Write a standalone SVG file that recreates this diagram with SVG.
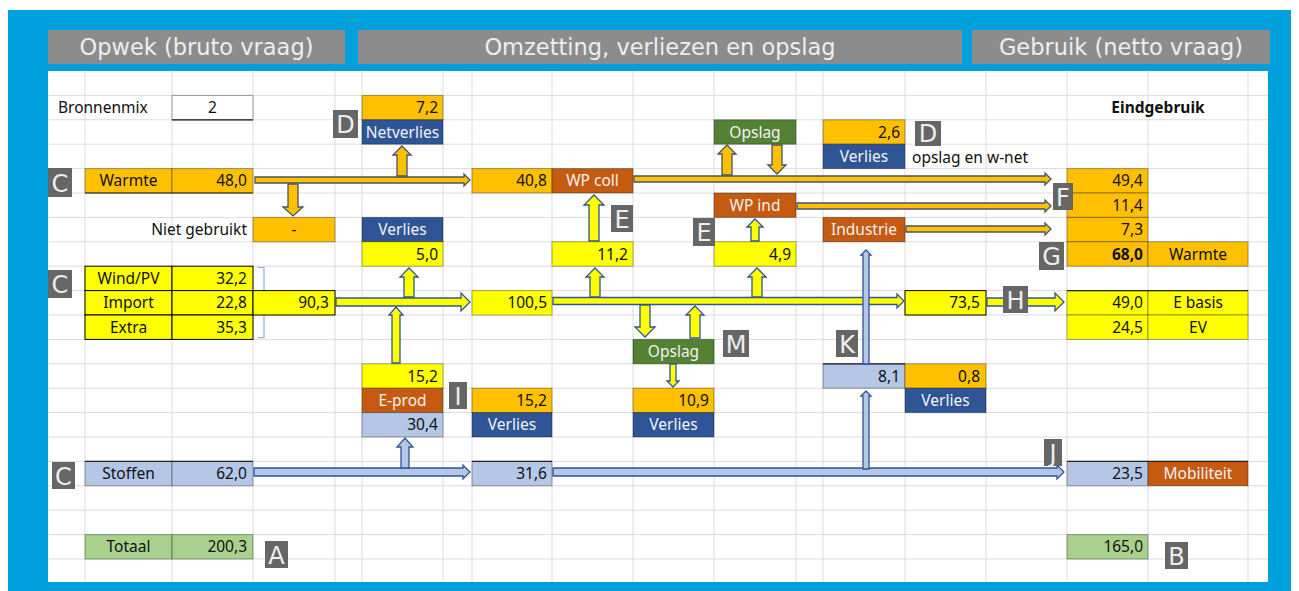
<svg xmlns="http://www.w3.org/2000/svg" width="1299" height="591" viewBox="0 0 1299 591">
<style>
.hdr{fill:#8c8c8c}
.ht{font-family:"DejaVu Sans",Verdana,sans-serif;font-size:22.5px;fill:#eeeeee;text-anchor:middle}
.t{font-family:"Noto Sans","Open Sans",sans-serif;font-size:15.5px;fill:#111}
.w{fill:#f2f2f2}
.b{font-weight:bold}
.r{text-anchor:end}
.c{text-anchor:middle}
.cell{stroke:#000;stroke-opacity:0.35;stroke-width:1}
.or{fill:#ffc000}
.ye{fill:#ffff00}
.dk{fill:#c55a11}
.bl{fill:#2f5597}
.gr{fill:#548235}
.lb{fill:#b4c7e7}
.lg{fill:#a9d18e}
.lab rect{fill:#666666}
.lab text{font-family:"DejaVu Sans",sans-serif;font-size:24px;fill:#eeeeee;text-anchor:middle}
.ao{fill:#ffc000;stroke:#44546a;stroke-width:1.3}
.ay{fill:#ffff00;stroke:#2f5597;stroke-width:1.3}
.ab{fill:#b4c7e7;stroke:#2f5597;stroke-width:1.3}
</style>
<rect x="0" y="0" width="1299" height="591" fill="#ffffff"/>
<rect x="8" y="10" width="1283" height="581" fill="#00a0dc"/>
<rect x="48" y="71" width="1220" height="511" fill="#ffffff"/>
<g id="grid" stroke="#dcdcdc" stroke-width="1" fill="none">
<path d="M85 71V582M172 71V582M253 71V582M335 71V582M362 71V582M443 71V582M472 71V582M552 71V582M633 71V582M714 71V582M796 71V582M823 71V582M905 71V582M986 71V582M1067 71V582M1148 71V582M1248 71V582"/>
<path d="M48 95.4H1268M48 119.8H1268M48 144.2H1268M48 168.6H1268M48 193H1268M48 217.4H1268M48 241.8H1268M48 266.2H1268M48 290.6H1268M48 315H1268M48 339.4H1268M48 363.8H1268M48 388.2H1268M48 412.6H1268M48 437H1268M48 461.4H1268M48 485.8H1268M48 510.2H1268M48 534.6H1268M48 559H1268"/>
</g>
<g id="headers">
<rect class="hdr" x="48" y="30" width="297" height="34"/>
<text class="ht" x="196.5" y="55">Opwek (bruto vraag)</text>
<rect class="hdr" x="358" y="30" width="604" height="34"/>
<text class="ht" x="660" y="55">Omzetting, verliezen en opslag</text>
<rect class="hdr" x="972" y="30" width="298" height="34"/>
<text class="ht" x="1121" y="55">Gebruik (netto vraag)</text>
</g>
<g id="bronnenmix">
<text class="t" x="58" y="113">Bronnenmix</text>
<rect x="172" y="95.4" width="81" height="24.4" fill="#fff" stroke="#999" stroke-width="1"/>
<line x1="172" y1="119.8" x2="253" y2="119.8" stroke="#222" stroke-width="1.2"/>
<text class="t c" x="212.5" y="113">2</text>
</g>
<g id="eindgebruik"><text class="t b c" x="1158" y="113">Eindgebruik</text></g>
<g id="netverlies">
<rect class="cell or" x="362" y="95.4" width="81" height="24.4"/><text class="t r" x="438" y="113">7,2</text>
<rect class="cell bl" x="362" y="119.8" width="81" height="24.4"/><text class="t c w" x="402.5" y="137.5">Netverlies</text>
</g>
<g id="opslag-warmte">
<rect class="cell gr" x="714" y="119.8" width="82" height="24.4"/><text class="t c w" x="755" y="137.5">Opslag</text>
</g>
<g id="verlies-opslag">
<rect class="cell or" x="823" y="119.8" width="82" height="24.4"/><text class="t r" x="900" y="137.5">2,6</text>
<rect class="cell bl" x="823" y="144.2" width="82" height="24.4"/><text class="t c w" x="864" y="162">Verlies</text>
<text class="t" x="912" y="163">opslag en w-net</text>
</g>
<g id="warmte">
<rect class="cell or" x="85" y="168.6" width="87" height="24.4"/><text class="t c" x="128.5" y="186">Warmte</text>
<rect class="cell or" x="172" y="168.6" width="81" height="24.4"/><text class="t r" x="247" y="186">48,0</text>
<line x1="85" y1="193" x2="253" y2="193" stroke="#222" stroke-width="1.2"/>
</g>
<g id="niet-gebruikt">
<text class="t r" x="247" y="235">Niet gebruikt</text>
<rect class="cell or" x="253" y="217.4" width="82" height="24.4"/><text class="t c" x="294" y="235">-</text>
</g>
<g id="verlies-net">
<rect class="cell bl" x="362" y="217.4" width="81" height="24.4"/><text class="t c w" x="402.5" y="235">Verlies</text>
<rect class="cell ye" x="362" y="241.8" width="81" height="24.4"/><text class="t r" x="438" y="259.5">5,0</text>
</g>
<g id="wp-coll">
<rect class="cell or" x="472" y="168.6" width="80" height="24.4"/><text class="t r" x="547" y="186">40,8</text>
<rect class="cell dk" x="552" y="168.6" width="81" height="24.4"/><text class="t c w" x="592.5" y="186">WP coll</text>
<rect class="cell ye" x="552" y="241.8" width="81" height="24.4"/><text class="t r" x="628" y="259.5">11,2</text>
</g>
<g id="wp-ind">
<rect class="cell dk" x="714" y="193" width="82" height="24.4"/><text class="t c w" x="755" y="210.5">WP ind</text>
<rect class="cell ye" x="714" y="241.8" width="82" height="24.4"/><text class="t r" x="791" y="259.5">4,9</text>
</g>
<g id="industrie">
<rect class="cell dk" x="823" y="217.4" width="82" height="24.4"/><text class="t c w" x="864" y="235">Industrie</text>
</g>
<g id="warmte-gebruik">
<rect class="cell or" x="1067" y="168.6" width="81" height="24.4"/><text class="t r" x="1143" y="186">49,4</text>
<rect class="cell or" x="1067" y="193" width="81" height="24.4"/><text class="t r" x="1143" y="210.5">11,4</text>
<rect class="cell or" x="1067" y="217.4" width="81" height="24.4"/><text class="t r" x="1143" y="235">7,3</text>
<rect class="cell or" x="1067" y="241.8" width="81" height="24.4"/><text class="t r b" x="1143" y="259.5">68,0</text>
<rect class="cell or" x="1148" y="241.8" width="100" height="24.4"/><text class="t c" x="1198" y="259.5">Warmte</text>
</g>
<g id="elektriciteit-bron" stroke="#000" stroke-width="1">
<rect class="ye" x="85" y="266.2" width="87" height="24.4"/>
<rect class="ye" x="172" y="266.2" width="81" height="24.4"/>
<rect class="ye" x="85" y="290.6" width="87" height="24.4"/>
<rect class="ye" x="172" y="290.6" width="81" height="24.4"/>
<rect class="ye" x="85" y="315" width="87" height="24.4"/>
<rect class="ye" x="172" y="315" width="81" height="24.4"/>
<text class="t c" x="128.5" y="284" stroke="none">Wind/PV</text><text class="t r" x="247" y="284" stroke="none">32,2</text>
<text class="t c" x="128.5" y="308" stroke="none">Import</text><text class="t r" x="247" y="308" stroke="none">22,8</text>
<text class="t c" x="128.5" y="332.5" stroke="none">Extra</text><text class="t r" x="247" y="332.5" stroke="none">35,3</text>
</g>
<g id="bracket"><path d="M258 267.5H264V337.5H258M264 303H268" fill="none" stroke="#8faadc" stroke-width="1.2"/></g>
<g id="e-totaal">
<rect class="ye" x="253" y="290.6" width="82" height="24.4" stroke="#000" stroke-width="1"/><text class="t r" x="329" y="308">90,3</text>
</g>
<g id="e-net">
<rect class="cell ye" x="472" y="290.6" width="80" height="24.4"/><text class="t r" x="547" y="308">100,5</text>
</g>
<g id="e-rest">
<rect class="ye" x="905" y="290.6" width="81" height="24.4" stroke="#000" stroke-width="1"/><text class="t r" x="980" y="308">73,5</text>
</g>
<g id="e-gebruik">
<rect class="cell ye" x="1067" y="290.6" width="81" height="24.4"/><text class="t r" x="1143" y="308">49,0</text>
<rect class="cell ye" x="1148" y="290.6" width="100" height="24.4"/><text class="t c" x="1198" y="308">E basis</text>
<rect class="cell ye" x="1067" y="315" width="81" height="24.4"/><text class="t r" x="1143" y="332.5">24,5</text>
<rect class="cell ye" x="1148" y="315" width="100" height="24.4"/><text class="t c" x="1198" y="332.5">EV</text>
<line x1="1067" y1="290.6" x2="1248" y2="290.6" stroke="#222" stroke-width="1.2"/>
</g>
<g id="opslag-e">
<rect class="cell gr" x="633" y="339.4" width="81" height="24.4"/><text class="t c w" x="673.5" y="357">Opslag</text>
<rect class="cell or" x="633" y="388.2" width="81" height="24.4"/><text class="t r" x="709" y="406">10,9</text>
<rect class="cell bl" x="633" y="412.6" width="81" height="24.4"/><text class="t c w" x="673.5" y="430">Verlies</text>
</g>
<g id="e-prod">
<rect class="cell ye" x="362" y="363.8" width="81" height="24.4"/><text class="t r" x="438" y="381.5">15,2</text>
<rect class="cell dk" x="362" y="388.2" width="81" height="24.4"/><text class="t c w" x="402.5" y="406">E-prod</text>
<rect class="cell lb" x="362" y="412.6" width="81" height="24.4"/><text class="t r" x="438" y="430">30,4</text>
</g>
<g id="verlies-eprod">
<rect class="cell or" x="472" y="388.2" width="80" height="24.4"/><text class="t r" x="547" y="406">15,2</text>
<rect class="cell bl" x="472" y="412.6" width="80" height="24.4"/><text class="t c w" x="512" y="430">Verlies</text>
</g>
<g id="k-blok">
<rect class="cell lb" x="823" y="363.8" width="82" height="24.4"/><text class="t r" x="900" y="381.5">8,1</text>
<line x1="823" y1="363.8" x2="905" y2="363.8" stroke="#222" stroke-width="1.2"/>
<rect class="cell or" x="905" y="363.8" width="81" height="24.4"/><text class="t r" x="980" y="381.5">0,8</text>
<rect class="cell bl" x="905" y="388.2" width="81" height="24.4"/><text class="t c w" x="945.5" y="406">Verlies</text>
</g>
<g id="stoffen">
<rect class="cell lb" x="85" y="461.4" width="87" height="24.4"/><text class="t c" x="128.5" y="479">Stoffen</text>
<rect class="cell lb" x="172" y="461.4" width="81" height="24.4"/><text class="t r" x="247" y="479">62,0</text>
<line x1="85" y1="461.4" x2="253" y2="461.4" stroke="#222" stroke-width="1.2"/>
<rect class="cell lb" x="472" y="461.4" width="80" height="24.4"/><text class="t r" x="547" y="479">31,6</text>
<line x1="472" y1="461.4" x2="552" y2="461.4" stroke="#222" stroke-width="1.2"/>
</g>
<g id="mobiliteit">
<rect class="cell lb" x="1067" y="461.4" width="81" height="24.4"/><text class="t r" x="1143" y="479">23,5</text>
<rect class="cell dk" x="1148" y="461.4" width="100" height="24.4"/><text class="t c w" x="1198" y="479">Mobiliteit</text>
<line x1="1067" y1="461.4" x2="1248" y2="461.4" stroke="#222" stroke-width="1.2"/>
</g>
<g id="totaal">
<rect class="cell lg" x="85" y="534.6" width="87" height="24.4"/><text class="t c" x="128.5" y="552">Totaal</text>
<rect class="cell lg" x="172" y="534.6" width="81" height="24.4"/><text class="t r" x="247" y="552">200,3</text>
<rect class="cell lg" x="1067" y="534.6" width="81" height="24.4"/><text class="t r" x="1143" y="552">165,0</text>
</g>
<g id="connectors">
<path class="ao" d="M255 177H464V174L470 180L464 186V183H255Z"/>
<path class="ao" d="M288 184V207H283L293 216L303 207H298V184Z"/>
<path class="ao" d="M397 176V155H393L402 146L411 155H407V176Z"/>
<path class="ao" d="M634 176H1045V173L1051 179L1045 185V182H634Z"/>
<path class="ao" d="M722 175V154H718L727 145L736 154H732V175Z"/>
<path class="ao" d="M772 145V165H768L777 174L786 165H782V145Z"/>
<path class="ao" d="M797 203H1045V200L1051 206L1045 212V209H797Z"/>
<path class="ao" d="M906 226H1045V223L1051 229L1045 235V232H906Z"/>
<path class="ay" d="M589 241V205H584L594 195L604 205H599V241Z"/>
<path class="ay" d="M751 241V227H747L755 219L763 227H759V241Z"/>
<path class="ay" d="M336 298H461V293L470 302L461 311V306H336Z"/>
<path class="ay" d="M553 297.5H897V294L904 301L897 308V304.5H553Z"/>
<path class="ay" d="M404 297V277H400L409 268L418 277H414V297Z"/>
<path class="ay" d="M590 297V277H586L595 268L604 277H600V297Z"/>
<path class="ay" d="M752 297V277H748L757 268L766 277H762V297Z"/>
<path class="ay" d="M392 363V315H389L396 307L403 315H400V363Z"/>
<path class="ay" d="M640 305V327H635L645 337L655 327H650V305Z"/>
<path class="ay" d="M690 338V315H686L695 306L704 315H700V338Z"/>
<path class="ay" d="M670 364V381H667L673 387L679 381H676V364Z"/>
<path class="ay" d="M987 298H1055V293L1064 302L1055 311V306H987Z"/>
<path class="ab" d="M254 468H463V465L470 472L463 479V476H254Z"/>
<path class="ab" d="M553 468H1057V465L1064 472L1057 479V476H553Z"/>
<path class="ab" d="M401 468V447H397L405 438L413 447H409V468Z"/>
<path class="ab" d="M863 364V255H861L866 250L871 255H869V364Z"/>
<path class="ab" d="M863 469V396H861L866 391L871 396H869V469Z"/>
</g>
<g id="label-A" class="lab"><rect x="265" y="541" width="23" height="27"/><text x="276.5" y="564">A</text></g>
<g id="label-B" class="lab"><rect x="1165" y="542" width="23" height="27"/><text x="1176.5" y="565">B</text></g>
<g id="label-C1" class="lab"><rect x="48" y="168" width="24" height="29"/><text x="60" y="192">C</text></g>
<g id="label-C2" class="lab"><rect x="48" y="270" width="24" height="28"/><text x="60" y="293">C</text></g>
<g id="label-C3" class="lab"><rect x="52" y="462" width="23" height="27"/><text x="63.5" y="485">C</text></g>
<g id="label-D1" class="lab"><rect x="333" y="110" width="25" height="28"/><text x="345.5" y="133">D</text></g>
<g id="label-D2" class="lab"><rect x="915" y="121" width="26" height="25"/><text x="928" y="142">D</text></g>
<g id="label-E1" class="lab"><rect x="611" y="205" width="22" height="27"/><text x="622" y="228">E</text></g>
<g id="label-E2" class="lab"><rect x="693" y="218" width="22" height="28"/><text x="704" y="241">E</text></g>
<g id="label-F" class="lab"><rect x="1053" y="183" width="20" height="27"/><text x="1063" y="206">F</text></g>
<g id="label-G" class="lab"><rect x="1039" y="242" width="25" height="28"/><text x="1051.5" y="265">G</text></g>
<g id="label-H" class="lab"><rect x="1003" y="286" width="25" height="27"/><text x="1015.5" y="309">H</text></g>
<g id="label-I" class="lab"><rect x="449" y="382" width="18" height="27"/><text x="458" y="405">I</text></g>
<g id="label-J" class="lab"><rect x="1044" y="439" width="18" height="27"/><text x="1053" y="462">J</text></g>
<g id="label-K" class="lab"><rect x="836" y="330" width="22" height="27"/><text x="847" y="353">K</text></g>
<g id="label-M" class="lab"><rect x="723" y="330" width="26" height="27"/><text x="736" y="353">M</text></g>
</svg>
